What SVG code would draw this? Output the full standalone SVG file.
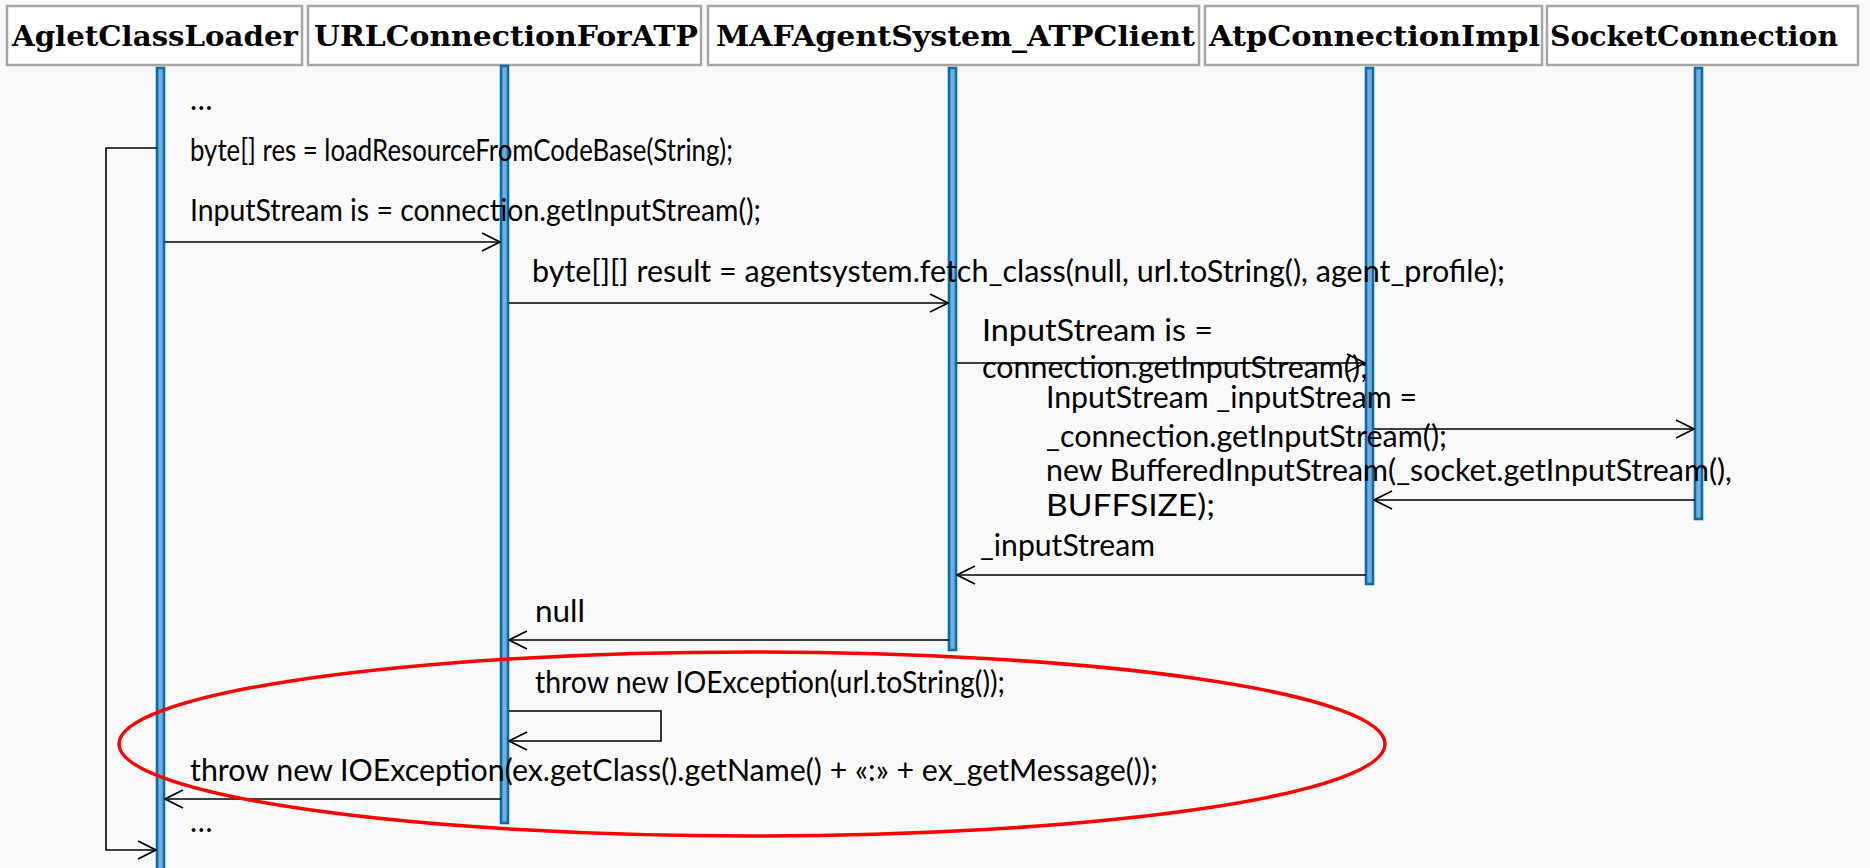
<svg xmlns="http://www.w3.org/2000/svg" width="1870" height="868" viewBox="0 0 1870 868">
  <style>
    .hdr { fill: #ffffff; stroke: #a6a6a6; stroke-width: 2.5; }
    .hdrText { font-family: "DejaVu Serif", "Liberation Serif", serif; font-weight: bold; font-size: 28px; fill: #000; }
    .life { fill: #6cb0e0; stroke: #0f6aa6; stroke-width: 2.6; }
    .msg { font-family: Lato, "Open Sans", sans-serif; font-size: 30px; fill: #000; }
    .conn line, .conn polyline { stroke: #000; stroke-width: 1.6; fill: none; }
    .conn .arrow { marker-end: url(#open); }
  </style>
  <defs>
    <marker id="open" viewBox="0 0 20 20" refX="19" refY="10" markerWidth="20" markerHeight="20" markerUnits="userSpaceOnUse" orient="auto">
      <polyline points="1,1 19,10 1,19" fill="none" stroke="#000" stroke-width="1.8"/>
    </marker>
  </defs>

  <rect width="1870" height="868" fill="#f9f9f9"/>

  <!-- participants: header box + lifeline -->
  <g id="agletClassLoader">
    <rect class="hdr" x="7" y="6" width="295" height="59"/>
    <text class="hdrText" x="12" y="46" textLength="286" lengthAdjust="spacingAndGlyphs">AgletClassLoader</text>
    <rect class="life" x="157" y="68" width="7" height="805"/>
  </g>
  <g id="urlConnectionForATP">
    <rect class="hdr" x="308" y="6" width="393" height="59"/>
    <text class="hdrText" x="314" y="46" textLength="384" lengthAdjust="spacingAndGlyphs">URLConnectionForATP</text>
    <rect class="life" x="501" y="66" width="7" height="757"/>
  </g>
  <g id="mafAgentSystem">
    <rect class="hdr" x="708" y="6" width="491" height="59"/>
    <text class="hdrText" x="716" y="46" textLength="479" lengthAdjust="spacingAndGlyphs">MAFAgentSystem_ATPClient</text>
    <rect class="life" x="949" y="68" width="7" height="582"/>
  </g>
  <g id="atpConnectionImpl">
    <rect class="hdr" x="1205" y="6" width="337" height="59"/>
    <text class="hdrText" x="1209" y="46" textLength="331" lengthAdjust="spacingAndGlyphs">AtpConnectionImpl</text>
    <rect class="life" x="1366" y="68" width="7" height="516"/>
  </g>
  <g id="socketConnection">
    <rect class="hdr" x="1547" y="6" width="311" height="59"/>
    <text class="hdrText" x="1550" y="46" textLength="288" lengthAdjust="spacingAndGlyphs">SocketConnection</text>
    <rect class="life" x="1695" y="68" width="7" height="451"/>
  </g>

  <!-- messages -->
  <g id="connectors" class="conn">
    <polyline class="arrow" points="157,148 106,148 106,850 156,850"/>
    <line class="arrow" x1="165" y1="242" x2="500" y2="242"/>
    <line class="arrow" x1="509" y1="303" x2="948" y2="303"/>
    <line class="arrow" x1="957" y1="363" x2="1365" y2="363"/>
    <line class="arrow" x1="1374" y1="429" x2="1694" y2="429"/>
    <line class="arrow" x1="1695" y1="500" x2="1374" y2="500"/>
    <line class="arrow" x1="1366" y1="575" x2="957" y2="575"/>
    <line class="arrow" x1="949" y1="640" x2="509" y2="640"/>
    <polyline class="arrow" points="509,711 661,711 661,741 509,741"/>
    <line class="arrow" x1="501" y1="799" x2="165" y2="799"/>
  </g>

  <g id="labels" class="msg">
    <text x="190" y="110">…</text>
    <text x="190" y="161" textLength="543" lengthAdjust="spacingAndGlyphs">byte[] res = loadResourceFromCodeBase(String);</text>
    <text x="190" y="221" textLength="571" lengthAdjust="spacingAndGlyphs">InputStream is = connection.getInputStream();</text>
    <text x="532" y="282" textLength="973" lengthAdjust="spacingAndGlyphs">byte[][] result = agentsystem.fetch_class(null, url.toString(), agent_profile);</text>
    <text x="982" y="341" textLength="231" lengthAdjust="spacingAndGlyphs">InputStream is =</text>
    <text x="982" y="378" textLength="386" lengthAdjust="spacingAndGlyphs">connection.getInputStream();</text>
    <text x="1046" y="408" textLength="371" lengthAdjust="spacingAndGlyphs">InputStream _inputStream =</text>
    <text x="1046" y="447" textLength="401" lengthAdjust="spacingAndGlyphs">_connection.getInputStream();</text>
    <text x="1046" y="481" textLength="686" lengthAdjust="spacingAndGlyphs">new BufferedInputStream(_socket.getInputStream(),</text>
    <text x="1046" y="516" textLength="169" lengthAdjust="spacingAndGlyphs">BUFFSIZE);</text>
    <text x="980" y="556" textLength="175" lengthAdjust="spacingAndGlyphs">_inputStream</text>
    <text x="535" y="622" textLength="50" lengthAdjust="spacingAndGlyphs">null</text>
    <text x="535" y="693" textLength="470" lengthAdjust="spacingAndGlyphs">throw new IOException(url.toString());</text>
    <text x="190" y="781" textLength="968" lengthAdjust="spacingAndGlyphs">throw new IOException(ex.getClass().getName() + «:» + ex_getMessage());</text>
    <text x="190" y="832">…</text>
  </g>

  <!-- highlight around the exception path -->
  <ellipse id="highlight" cx="752" cy="744" rx="633" ry="92" fill="none" stroke="#ff0000" stroke-width="3.5"/>
</svg>
